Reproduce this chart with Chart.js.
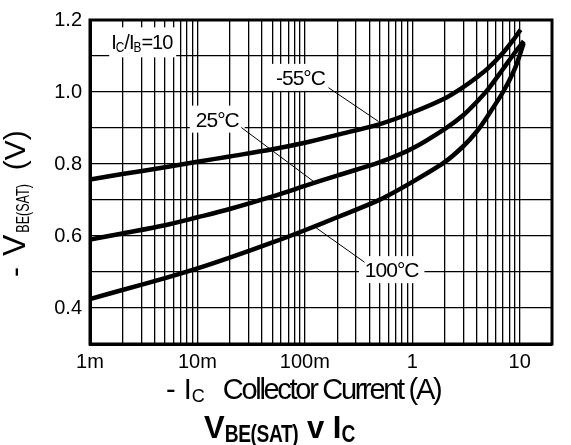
<!DOCTYPE html>
<html lang="en">
<head>
  <meta charset="UTF-8">
  <title>VBE(SAT) v IC</title>
  <script src="https://cdn.jsdelivr.net/npm/chart.js"></script>
  <style>
    body { margin: 0; background: #fff; }
    canvas { display: block; }
  </style>
  <script>
    addEventListener("DOMContentLoaded", init);

    // collector current (A) and -VBE(SAT) (V)
    const icMinus55 = [0.001, 0.002, 0.005, 0.01, 0.02, 0.05, 0.1, 0.2, 0.5, 1, 2, 3, 4, 5, 7, 9, 10.2];
    const vbeMinus55 = [0.757, 0.772, 0.791, 0.806, 0.821, 0.841, 0.859, 0.881, 0.911, 0.943, 0.982, 1.014, 1.041, 1.064, 1.109, 1.150, 1.173];

    const ic25 = [0.001, 0.002, 0.005, 0.01, 0.02, 0.05, 0.1, 0.2, 0.5, 1, 2, 3, 4, 5, 7, 9, 10.9];
    const vbe25 = [0.590, 0.607, 0.630, 0.652, 0.675, 0.710, 0.739, 0.768, 0.805, 0.843, 0.897, 0.936, 0.973, 1.005, 1.064, 1.109, 1.141];

    const ic100 = [0.001, 0.002, 0.005, 0.01, 0.02, 0.05, 0.1, 0.2, 0.5, 1, 2, 3, 4, 5, 7, 9, 10.9];
    const vbe100 = [0.425, 0.450, 0.483, 0.510, 0.540, 0.582, 0.616, 0.652, 0.701, 0.750, 0.805, 0.850, 0.891, 0.932, 1.000, 1.064, 1.136];

    const xTickValues = [0.001, 0.01, 0.1, 1, 10];
    const xTickLabels = ["1m", "10m", "100m", "1", "10"];
    const yTickLabels = ["0.4", "0.6", "0.8", "1.0", "1.2"];

    // curve labels, anchored in data units: text centre, leader start, leader end
    const notes = [
      { text: "-55°C", at: [0.091, 1.042], from: [0.166, 1.012], to: [0.486, 0.918] },
      { text: "25°C", at: [0.0153, 0.926], from: [0.0256, 0.9015], to: [0.1256, 0.7475] },
      { text: "100°C", at: [0.643, 0.508], from: [0.36, 0.527], to: [0.1256, 0.624] }
    ];

    const FONT = '"Liberation Sans", Arial, sans-serif';

    function pts(xs, ys) {
      return xs.map((x, i) => ({ x: x, y: ys[i] }));
    }

    function drawRuns(ctx, runs, x, y) {
      let cx = x;
      for (let r of runs) {
        if (r.gap) { cx += r.gap; continue; }
        ctx.font = (r.bold ? "bold " : "") + r.size + "px " + FONT;
        ctx.letterSpacing = (r.ls || 0) + "px";
        let sx = r.sx || 1;
        let w = ctx.measureText(r.t).width * sx;
        ctx.save();
        ctx.translate(cx, y + (r.dy || 0));
        ctx.scale(sx, 1);
        ctx.fillText(r.t, 0, 0);
        ctx.restore();
        cx += w;
      }
      ctx.letterSpacing = "0px";
      return cx - x;
    }

    const decorations = {
      id: "decorations",
      afterDatasetsDraw(chart) {
        const ctx = chart.ctx;
        const xs = chart.scales.x, ys = chart.scales.y;
        const a = chart.chartArea;
        ctx.save();
        ctx.fillStyle = "#000";
        ctx.textBaseline = "alphabetic";

        // IC/IB=10 box
        let bx = xs.getPixelForValue(0.00306), by = ys.getPixelForValue(1.138);
        ctx.fillStyle = "#fff";
        ctx.fillRect(bx - 33, by - 15, 67, 30);
        ctx.fillStyle = "#000";
        drawRuns(ctx, [
          { t: "I", size: 20, ls: -1 }, { t: "C", size: 14, dy: 3, sx: 0.85 },
          { t: "/I", size: 20, ls: -1 }, { t: "B", size: 14, dy: 3, sx: 0.85 },
          { t: "=10", size: 20, ls: -1 }
        ], bx - 31, by + 7);

        // curve labels with leader lines
        ctx.font = "21px " + FONT;
        for (let n of notes) {
          ctx.letterSpacing = "-1px";
          let w = ctx.measureText(n.text).width;
          let cx = xs.getPixelForValue(n.at[0]), cy = ys.getPixelForValue(n.at[1]);
          ctx.fillStyle = "#fff";
          ctx.fillRect(cx - w / 2 - 6, cy - 13, w + 12, 27);
          ctx.fillStyle = "#000";
          ctx.textAlign = "center";
          ctx.fillText(n.text, cx, cy + 8);
          ctx.beginPath();
          ctx.lineWidth = 1;
          ctx.strokeStyle = "#000";
          ctx.moveTo(xs.getPixelForValue(n.from[0]), ys.getPixelForValue(n.from[1]));
          ctx.lineTo(xs.getPixelForValue(n.to[0]), ys.getPixelForValue(n.to[1]));
          ctx.stroke();
        }
        ctx.letterSpacing = "0px";
        ctx.textAlign = "left";

        // frame
        ctx.lineWidth = 3;
        ctx.strokeRect(a.left, a.top, a.right - a.left, a.bottom - a.top);

        // x title
        drawRuns(ctx, [
          { t: "- I", size: 29 }, { t: "C", size: 18, dy: 3 },
          { gap: 18 },
          { t: "Collector Current (A)", size: 29, ls: -2.3 }
        ], 166, 399);

        // chart title
        drawRuns(ctx, [
          { t: "V", size: 31, bold: true }, { t: "BE(SAT)", size: 24, bold: true, dy: 4, sx: 0.8, ls: -0.5 },
          { t: " v I", size: 31, bold: true }, { t: "C", size: 24, bold: true, dy: 4, sx: 0.8 }
        ], 204, 438);

        // y title, rotated
        ctx.translate(25, 277);
        ctx.rotate(-Math.PI / 2);
        drawRuns(ctx, [
          { t: "-", size: 30 }, { gap: 11 },
          { t: "V", size: 32 }, { gap: 2 },
          { t: "BE(SAT)", size: 19, dy: 4, sx: 0.66 },
          { gap: 14 },
          { t: "(V)", size: 30 }
        ], 0, 0);
        ctx.restore();
      }
    };

    function init() {
      let canvas = document.getElementById("chart");
      new Chart(canvas, {
        type: "line",
        data: {
          datasets: [
            { label: "-55°C", data: pts(icMinus55, vbeMinus55) },
            { label: "25°C", data: pts(ic25, vbe25) },
            { label: "100°C", data: pts(ic100, vbe100) }
          ]
        },
        options: {
          responsive: false,
          animation: false,
          devicePixelRatio: 1,
          layout: { padding: { top: 17, right: 19, left: 0, bottom: 0 } },
          elements: {
            point: { radius: 0 },
            line: { borderColor: "#000", borderWidth: 4.5, tension: 0.3, borderCapStyle: "butt" }
          },
          plugins: { legend: { display: false }, tooltip: { enabled: false } },
          scales: {
            x: {
              type: "logarithmic",
              min: 0.001,
              max: 20,
              afterFit(scale) { scale.height = 101; },
              afterBuildTicks(scale) {
                let t = [];
                for (let d = 0.001; d < 15; d *= 10) {
                  for (let k = 1; k <= 9; k++) {
                    let v = +(d * k).toPrecision(3);
                    if (v <= 20) t.push({ value: v });
                  }
                }
                t.push({ value: 20 });
                scale.ticks = t;
              },
              grid: { color: "#000", lineWidth: 1.3, drawTicks: false },
              border: { color: "#000", width: 3 },
              ticks: {
                autoSkip: false,
                maxRotation: 0,
                padding: 6,
                color: "#000",
                font: { family: FONT, size: 20 },
                callback(v) {
                  let i = xTickValues.findIndex(t => Math.abs(t - v) < t * 1e-6);
                  return i >= 0 ? xTickLabels[i] : "";
                }
              }
            },
            y: {
              min: 0.3,
              max: 1.2,
              afterFit(scale) { scale.width = 90; },
              grid: { color: "#000", lineWidth: 1.3, drawTicks: false },
              border: { color: "#000", width: 3 },
              ticks: {
                stepSize: 0.1,
                padding: 8,
                color: "#000",
                font: { family: FONT, size: 20 },
                callback(v) {
                  let s = (Math.round(v * 10) / 10).toFixed(1);
                  return yTickLabels.includes(s) ? s : "";
                }
              }
            }
          }
        },
        plugins: [decorations]
      });
    }
  </script>
</head>
<body>
  <canvas id="chart" width="571" height="445"></canvas>
</body>
</html>
